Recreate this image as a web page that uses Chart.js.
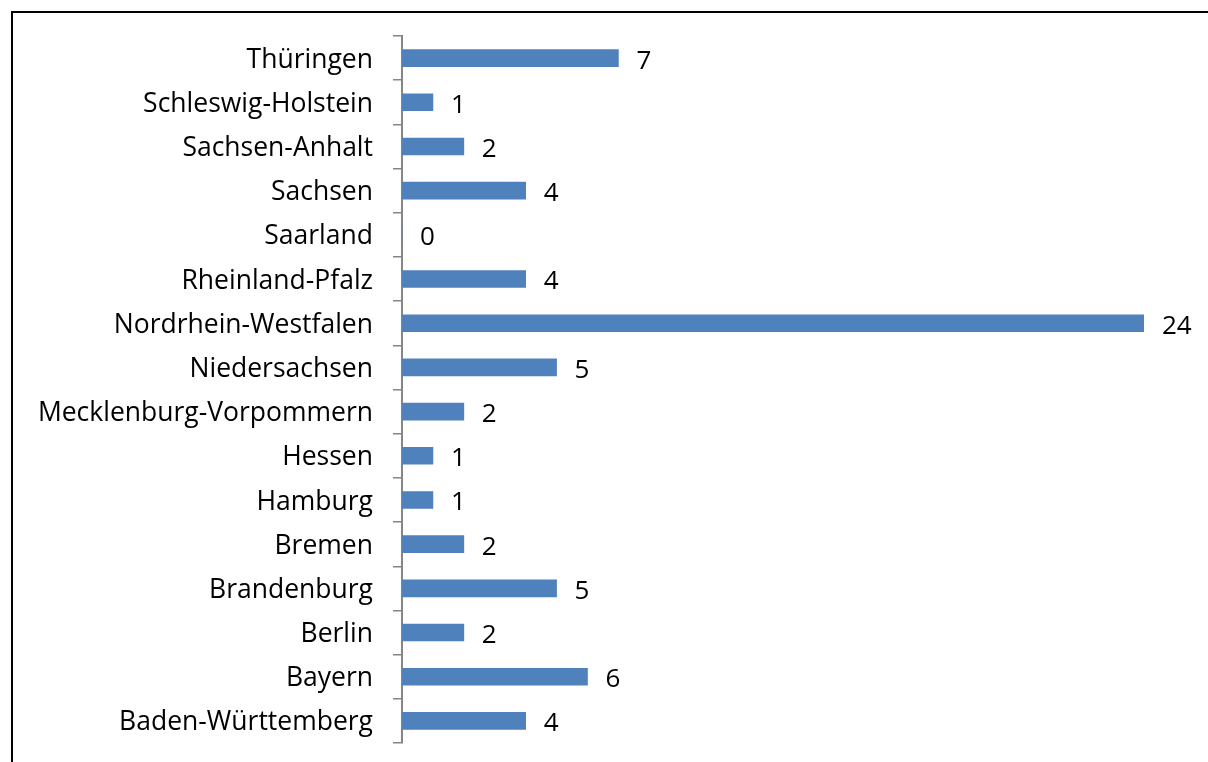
<!DOCTYPE html>
<html>
<head>
<meta charset="utf-8">
<script src="https://cdn.jsdelivr.net/npm/chart.js@4"></script>
<style>
  html, body { margin: 0; padding: 0; background: #fff; overflow: hidden; }
  #wrap { width: 1208px; height: 762px; }
</style>
</head>
<body>
<div id="wrap"><canvas id="laender"></canvas></div>
<script>
const laender = ['Thüringen', 'Schleswig-Holstein', 'Sachsen-Anhalt', 'Sachsen', 'Saarland',
  'Rheinland-Pfalz', 'Nordrhein-Westfalen', 'Niedersachsen', 'Mecklenburg-Vorpommern', 'Hessen',
  'Hamburg', 'Bremen', 'Brandenburg', 'Berlin', 'Bayern', 'Baden-Württemberg'];
const anzahl = [7, 1, 2, 4, 0, 4, 24, 5, 2, 1, 1, 2, 5, 2, 6, 4];

const fontFamily = '"Open Sans", sans-serif';

// outer frame like the excel chart border
const frame = {
  id: 'frame',
  afterDraw(chart) {
    const c = chart.ctx;
    c.save();
    c.strokeStyle = '#000';
    c.lineWidth = 2;
    c.strokeRect(12, 12, 1400, 900);
    c.restore();
  }
};

// value labels right of each bar
const valueLabels = {
  id: 'valueLabels',
  afterDatasetsDraw(chart) {
    const c = chart.ctx;
    const meta = chart.getDatasetMeta(0);
    c.save();
    c.font = '26px ' + fontFamily;
    c.fillStyle = '#000';
    c.textAlign = 'left';
    c.textBaseline = 'middle';
    meta.data.forEach((bar, i) => {
      c.fillText(String(anzahl[i]), bar.x + 18, bar.y + 3);
    });
    c.restore();
  }
};

new Chart(document.getElementById('laender'), {
  type: 'bar',
  data: {
    labels: laender,
    datasets: [{
      data: anzahl,
      backgroundColor: '#4F81BD',
      barThickness: 17
    }]
  },
  options: {
    indexAxis: 'y',
    responsive: true,
    maintainAspectRatio: false,
    animation: false,
    layout: { padding: { left: 0, right: 64, top: 36, bottom: 19 } },
    plugins: {
      legend: { display: false },
      tooltip: { enabled: false }
    },
    scales: {
      x: {
        display: false,
        min: 0,
        max: 24
      },
      y: {
        afterFit(scale) {
          scale.width = 402;
          scale.paddingTop = 0;
          scale.paddingBottom = 0;
        },
        border: { display: true, color: '#868686', width: 2 },
        grid: {
          drawOnChartArea: false,
          drawTicks: true,
          tickLength: 9,
          color: '#868686',
          lineWidth: 1.5
        },
        ticks: {
          color: '#000',
          padding: 20,
          labelOffset: 2,
          font: { family: fontFamily, size: 26.5 }
        }
      }
    }
  },
  plugins: [frame, valueLabels]
});
</script>
</body>
</html>
